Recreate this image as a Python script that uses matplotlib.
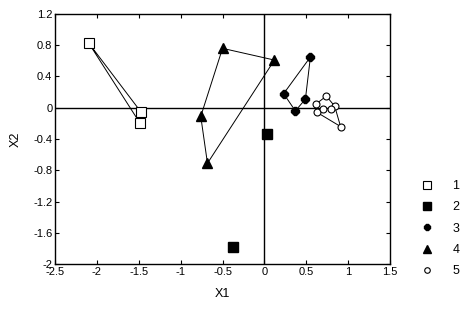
import matplotlib
matplotlib.use('agg')
import matplotlib.pyplot as plt
import numpy as np

plt.rcParams['font.family'] = ['Liberation Sans', 'DejaVu Sans']
plt.rcParams['font.size'] = 8

# ---- data (group scores on X1 / X2) ----
g1_x = [-2.10, -1.47, -1.49]
g1_y = [0.83, -0.06, -0.19]

g2_x = [0.03, -0.38]
g2_y = [-0.33, -1.78]

g3_x = [0.23, 0.55, 0.49, 0.37]
g3_y = [0.18, 0.65, 0.11, -0.04]

g4_x = [-0.50, 0.12, -0.68, -0.76]
g4_y = [0.76, 0.61, -0.71, -0.11]

g5_x = [0.74, 0.84, 0.91, 0.63, 0.62, 0.70, 0.79]
g5_y = [0.15, 0.02, -0.24, -0.06, 0.05, -0.01, -0.01]
g5_hull = 5  # first 5 points make the outline

group_names = ['1', '2', '3', '4', '5']

x_ticks = [-2.5, -2, -1.5, -1, -0.5, 0, 0.5, 1, 1.5]
x_labels = ['-2.5', '-2', '-1.5', '-1', '-0.5', '0', '0.5', '1', '1.5']
y_ticks = [-2, -1.6, -1.2, -0.8, -0.4, 0, 0.4, 0.8, 1.2]
y_labels = ['-2', '-1.6', '-1.2', '-0.8', '-0.4', '0', '0.4', '0.8', '1.2']

fig = plt.figure(figsize=(4.67, 3.10), dpi=100)
ax = fig.add_axes([0.118, 0.148, 0.717, 0.807])

ax.axhline(0, color='black', lw=1.0, zorder=1)
ax.axvline(0, color='black', lw=1.0, zorder=1)

def outline(xs, ys):
    xs = list(xs) + [xs[0]]
    ys = list(ys) + [ys[0]]
    ax.plot(xs, ys, color='black', lw=0.7, zorder=2)

outline(g1_x, g1_y)
outline(g3_x, g3_y)
outline(g4_x, g4_y)
outline(g5_x[:g5_hull], g5_y[:g5_hull])

h1, = ax.plot(g1_x, g1_y, 's', ms=6.5, mfc='white', mec='black', mew=0.8, ls='none', zorder=3)
h2, = ax.plot(g2_x, g2_y, 's', ms=6.5, mfc='black', mec='black', ls='none', zorder=3)
h3, = ax.plot(g3_x, g3_y, '8', ms=5.5, mfc='black', mec='black', ls='none', zorder=3)
h4, = ax.plot(g4_x, g4_y, '^', ms=6.5, mfc='black', mec='black', ls='none', zorder=3)
h5, = ax.plot(g5_x, g5_y, 'o', ms=5, mfc='white', mec='black', mew=0.8, ls='none', zorder=3)

ax.set_xlim(-2.5, 1.5)
ax.set_ylim(-2, 1.2)
ax.set_xticks(x_ticks)
ax.set_xticklabels(x_labels)
ax.set_yticks(y_ticks)
ax.set_yticklabels(y_labels)
ax.tick_params(direction='in', length=3, top=True, right=True, pad=2)
for s in ax.spines.values():
    s.set_linewidth(1.0)

ax.set_xlabel('X1', fontsize=9, labelpad=8)
ax.set_ylabel('X2', fontsize=9, labelpad=8)

fig.legend([h1, h2, h3, h4, h5], group_names, loc='upper left',
           bbox_to_anchor=(421 / 467, 1 - 180 / 310), frameon=False, fontsize=9,
           borderpad=0, borderaxespad=0, handlelength=1.0,
           handletextpad=1.5, labelspacing=0.75, markerscale=0.8)

plt.savefig('out.png', dpi=100)
